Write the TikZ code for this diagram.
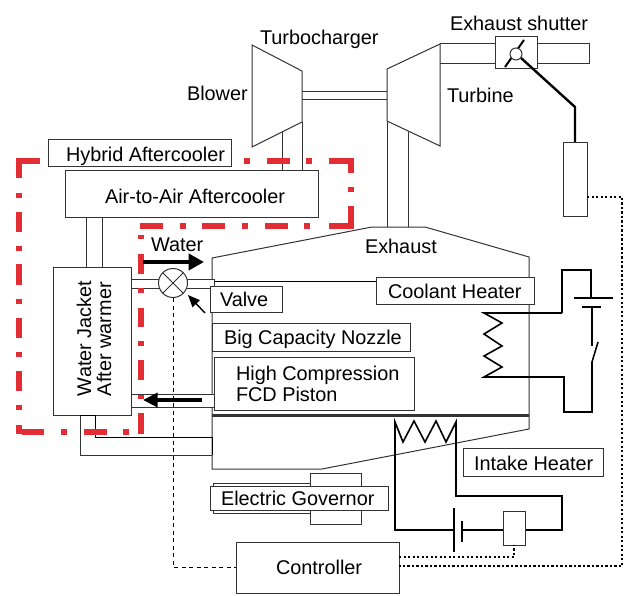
\documentclass[tikz,border=0pt]{standalone}
\usepackage{fontspec}
\setmainfont{Liberation Sans}
\usetikzlibrary{arrows.meta}
\definecolor{redline}{HTML}{E22D35}
\definecolor{ink}{HTML}{333333}
\newlength{\pxl}\setlength{\pxl}{0.75pt}
\tikzset{
  thin line/.style={draw=ink,line width=1\pxl},
  dark line/.style={draw=black,line width=1\pxl},
  wire/.style={draw=black,line width=1.6\pxl,line join=miter},
  heavy/.style={draw=black,line width=2.4\pxl,line join=miter},
  panel/.style={draw=ink,line width=1\pxl,fill=white},
  redseg/.style={draw=redline,line width=5.5\pxl},
  ctrl dash/.style={draw=black,line width=1\pxl,dash pattern=on 4\pxl off 3.5\pxl},
  ctrl dot/.style={draw=black,line width=2.4\pxl,dash pattern=on 2.4\pxl off 2.1\pxl},
  lbl/.style={anchor=base west,inner sep=0pt,outer sep=0pt,text=black,yshift=-0.75pt,font=\fontsize{14.9pt}{16pt}\selectfont},
  vlbl/.style={lbl,rotate=90},
}
\begin{document}
\begin{tikzpicture}[x=0.75pt,y=-0.75pt]
\useasboundingbox (0,0) rectangle (627,595);
% engine outline
\draw[panel] (212,258) -- (372,227) -- (425,227) -- (529,257) -- (529,429) -- (322,469) -- (212,469) -- cycle;
\draw[dark line] (212,281.5) -- (376,281.5);
\draw[draw=ink,line width=2.4\pxl] (212,415.5) -- (529,415.5);
% turbocharger
\draw[thin line] (282,131) -- (282,171);
\draw[thin line] (302,122) -- (302,171);
\draw[panel] (252,45) -- (302,71) -- (302,122) -- (252,147) -- cycle;
\draw[thin line] (302,92) -- (387,92);
\draw[thin line,line width=1.5\pxl] (302,99.5) -- (387,99.5);
\draw[thin line] (387,121) -- (387,227);
\draw[thin line] (408,132) -- (408,227);
\draw[panel] (387,69) -- (440,44) -- (440,146) -- (387,121) -- cycle;
\draw[thin line] (440,44) -- (589,44) -- (589,64) -- (440,64);
\draw[panel] (495,37) rectangle (537,69);
\draw[wire,line width=2\pxl] (524,40) -- (505,67);
\draw[heavy] (521,58) -- (575,107) -- (575,143);
\draw[panel] (516,54) circle (6);
\draw[panel] (563,143) rectangle (587,216);
% aftercooler and jacket
\draw[thin line] (86,217) -- (86,267);
\draw[thin line] (102,217) -- (102,267);
\draw[panel] (65,171) rectangle (318,217);
% pipes
\draw[panel] (131,279) rectangle (214,288);
\draw[panel] (131,394) rectangle (214,407);
\draw[panel] (53,267) rectangle (131,415);
\draw[thin line] (80,415) -- (80,455) -- (212,455);
\draw[dark line] (80,415) -- (95,415);
\draw[dark line] (95,415) -- (95,437) -- (212,437) -- (212,455);
% red boundary
\foreach \a/\b in {16.25/40,244/250,267/290,306/312,329/353.75} \draw[redseg] (\a,161) -- (\b,161);
\foreach \a/\b in {158.25/173,187/192,206/228.75} \draw[redseg] (351,\a) -- (351,\b);
\foreach \a/\b in {140/163,180/186,202/225,242/248,265/288,304/310,329/351} \draw[redseg] (\a,226) -- (\b,226);
\foreach \a/\b in {235/239,254/274,288/293,308/327,341/346,360/380,395/399,413/434} \draw[redseg] (141,\a) -- (141,\b);
\foreach \a/\b in {123/129,84/107,61/67,22/44} \draw[redseg] (\a,432) -- (\b,432);
\foreach \a/\b in {158.25/178,193/198,212/232,246/251,264/285,299/304,318/338,352/357,371/391,405/410,425/434} \draw[redseg] (19,\a) -- (19,\b);
% text panels
\draw[panel] (48,140) rectangle (231,167);
\node[lbl] (hybrid) at (66,161) {Hybrid Aftercooler};
\node[lbl] (air) at (105,203) {Air-to-Air Aftercooler};
\node[vlbl] (jacket) at (91,395) {Water Jacket};
\node[vlbl] (warmer) at (111,395) {After warmer};
% valve
\draw[panel] (173,283) circle (14.5);
\draw[thin line] (162.75,272.75) -- (183.25,293.25);
\draw[thin line] (162.75,293.25) -- (183.25,272.75);
\coordinate (valvearrowtail) at (205,313);
\coordinate (valvearrowtip) at (188,295);
\draw[draw=black,line width=1.4\pxl,-{Triangle[length=9pt,width=7.5pt]}] (valvearrowtail) -- (valvearrowtip);
% control dashed line
\coordinate (dashtop) at (173,298);
\coordinate (dashbend) at (173,567);
\draw[ctrl dash] (dashtop) -- (dashbend) -- (236,567);
% panels in engine
\draw[panel] (210,286) rectangle (282,312);
\node[lbl] (valve) at (220,305.5) {Valve};
\draw[panel] (376,277) rectangle (534,304);
\node[lbl] (coolant) at (388,297.5) {Coolant Heater};
\draw[panel] (212,323) rectangle (410,351);
\node[lbl] (nozzle) at (224,343.5) {Big Capacity Nozzle};
\draw[panel] (214,357) rectangle (414,410);
\node[lbl] (high) at (236,379.5) {High Compression};
\node[lbl] (fcd) at (236,400.5) {FCD Piston};
% governor
\draw[panel] (310,473) rectangle (361,524);
\draw[thin line] (213,483) -- (310,483);
\draw[thin line] (213,513) -- (310,513);
\draw[thin line] (213,483) -- (213,513);
\draw[panel] (210,486) rectangle (388,510);
\node[lbl] (governor) at (221,504.5) {Electric Governor};
% flow arrows
\draw[draw=black,line width=4\pxl,-{Triangle[length=11.5pt,width=12pt]}] (143,262) -- (204,262);
\draw[draw=black,line width=3.4\pxl,-{Triangle[length=11pt,width=10.5pt]}] (202,400) -- (143,400);
\node[lbl] (water) at (151,250.5) {Water};
\node[lbl] (turbocharger) at (260,43.5) {Turbocharger};
\node[lbl] (shutter) at (450,29.5) {Exhaust shutter};
\node[lbl] (blower) at (187,99.5) {Blower};
\node[lbl] (turbine) at (447,101.5) {Turbine};
\node[lbl] (exhaust) at (365,252.5) {Exhaust};
% coolant heater circuit
\draw[wire] (562,313) -- (484,313) -- (502,323) -- (484,334) -- (502,346) -- (484,356) -- (502,367) -- (484,377) -- (564,377) -- (564,412) -- (592,412) -- (592,362) -- (598,342);
\draw[wire] (562,313) -- (562,270) -- (591,270) -- (591,298);
\draw[wire] (574,298) -- (613,298);
\draw[wire,line width=2\pxl] (582,307) -- (601,307);
\draw[wire] (592,307) -- (592,346);
% intake heater circuit
\draw[wire] (454,530) -- (395,530) -- (395,422) -- (403,442) -- (414,421) -- (425,442) -- (436,421) -- (446,442) -- (456,422) -- (456,496) -- (562,496) -- (562,530) -- (525,530);
\draw[wire] (462,530) -- (503,530);
\draw[wire] (454,508) -- (454,552);
\draw[wire,line width=2.2\pxl] (462,521) -- (462,542);
\draw[panel] (503,511) rectangle (525,545);
\draw[panel] (463,448) rectangle (603,476);
\node[lbl] (intake) at (474,469.5) {Intake Heater};
% controller
\draw[panel] (236,542) rectangle (399,593);
\node[lbl] (controller) at (276,573.5) {Controller};
\draw[ctrl dot] (399,557) -- (514,557) -- (514,545);
\draw[ctrl dot] (587,197) -- (622,197) -- (622,566) -- (399,566);
\end{tikzpicture}
\end{document}
